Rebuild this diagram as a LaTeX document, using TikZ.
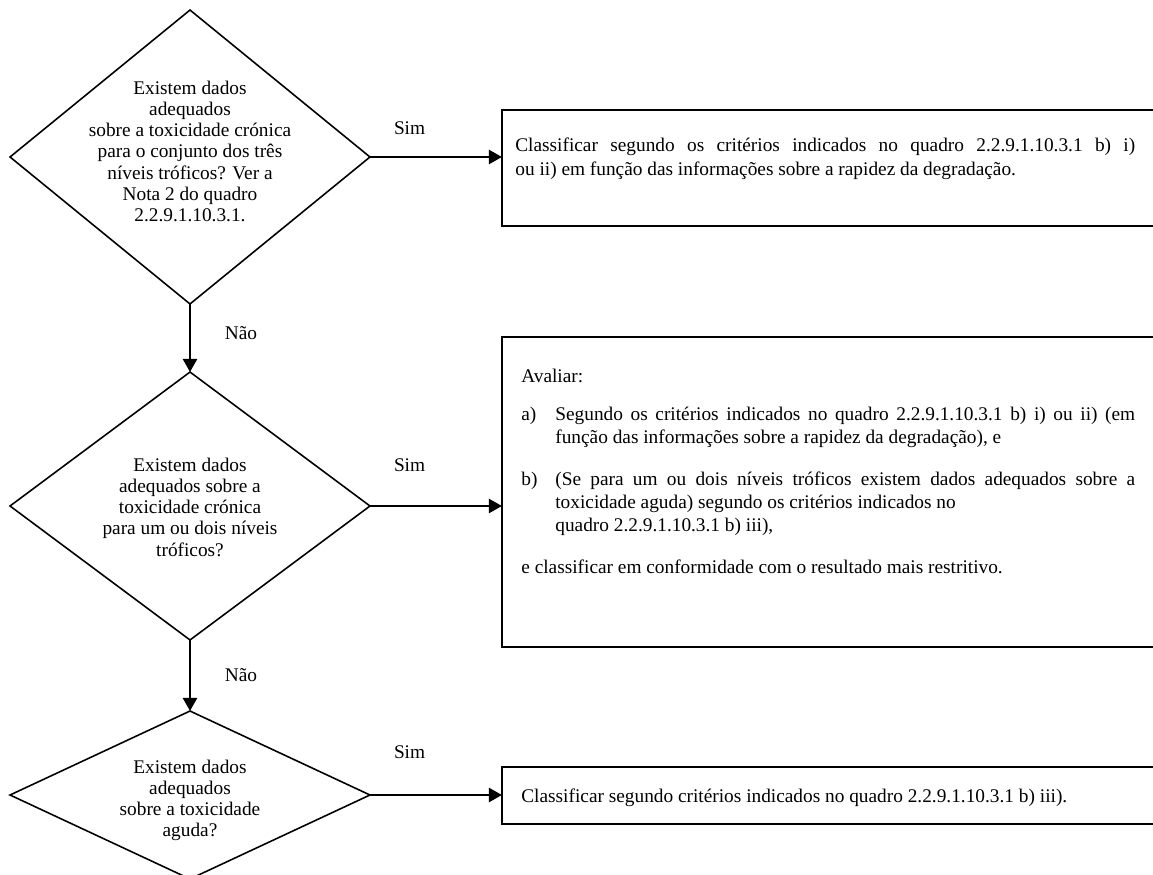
\documentclass[tikz,border=0pt]{standalone}
\usepackage{fontspec}
\setmainfont{Liberation Serif}
\usetikzlibrary{shapes.geometric,arrows.meta}
\newcommand\qfont{\fontsize{11}{12.1}\selectfont}
\newcommand\bfont{\fontsize{11}{13.1}\selectfont}
\begin{document}
\begin{tikzpicture}[x=0.02cm,y=-0.02cm,
  decision/.style={diamond, draw, line width=0.9pt, inner sep=0pt, outer sep=0pt, minimum width=7.2cm},
  resultbox/.style={rectangle, draw, line width=1.1pt, inner sep=0pt, outer sep=0pt, minimum width=14cm, anchor=north west},
  flow/.style={line width=1.5pt, -{Triangle[length=7.5pt,width=8pt]}},
  lbl/.style={font=\bfont, inner sep=0pt},
  qtext/.style={inner sep=0pt, anchor=base},
  btext/.style={inner sep=0pt, anchor=base west},
]
\useasboundingbox (0,0) rectangle (1153,875);
\clip (0,0) rectangle (1153,875);

% decisions
\node[decision, minimum height=5.88cm] (d1) at (190,157) {};
\node[decision, minimum height=5.36cm] (d2) at (190,506) {};
\node[decision, minimum height=3.36cm] (d3) at (190,795) {};

\node[qtext] (q1) at (190,94) {\parbox[t]{6cm}{\centering\qfont Existem dados\\adequados\\sobre a toxicidade crónica\\para o conjunto dos três\\níveis tróficos? Ver a\\Nota 2 do quadro\\2.2.9.1.10.3.1.}};
\node[qtext] (q2) at (190,471) {\parbox[t]{6cm}{\centering\qfont Existem dados\\adequados sobre a\\toxicidade crónica\\para um ou dois níveis\\tróficos?}};
\node[qtext] (q3) at (190,773) {\parbox[t]{6cm}{\centering\qfont Existem dados\\adequados\\sobre a toxicidade\\aguda?}};

% results
\node[resultbox, minimum height=2.32cm] (b1) at (502,110) {};
\node[resultbox, minimum height=6.2cm] (b2) at (502,337) {};
\node[resultbox, minimum height=1.14cm] (b3) at (502,767) {};

\node[btext] (t1) at (515,152) {\parbox[t]{12.4cm}{\bfont\makebox[\linewidth][s]{Classificar segundo os critérios indicados no quadro 2.2.9.1.10.3.1 b) i)}\\ou ii) em função das informações sobre a rapidez da degradação.}};

\node[btext] (t2a) at (521,382) {\bfont Avaliar:};
\node[btext] (t2b) at (521,420) {\bfont a)};
\node[btext] (t2c) at (555,420) {\parbox[t]{11.6cm}{\bfont\makebox[\linewidth][s]{Segundo os critérios indicados no quadro 2.2.9.1.10.3.1 b) i) ou ii) (em}\\função das informações sobre a rapidez da degradação), e}};
\node[btext] (t2d) at (521,485) {\bfont b)};
\node[btext] (t2e) at (555,485) {\parbox[t]{11.6cm}{\bfont\makebox[\linewidth][s]{(Se para um ou dois níveis tróficos existem dados adequados sobre a}\\toxicidade aguda) segundo os critérios indicados no\\quadro 2.2.9.1.10.3.1 b) iii),}};
\node[btext] (t2f) at (521,573) {\bfont e classificar em conformidade com o resultado mais restritivo.};

\node[btext] (t3) at (521,802) {\bfont Classificar segundo critérios indicados no quadro 2.2.9.1.10.3.1 b) iii).};

% connectors
\draw[flow] (d1.east) -- node[lbl, pos=0.3, yshift=0.58cm] (s1) {Sim} (d1.east -| b1.west);
\draw[flow] (d2.east) -- node[lbl, pos=0.3, yshift=0.82cm] (s2) {Sim} (d2.east -| b2.west);
\draw[flow] (d3.east) -- node[lbl, pos=0.3, yshift=0.86cm] (s3) {Sim} (d3.east -| b3.west);
\draw[flow] (d1.south) -- node[lbl, pos=0.43, xshift=1.02cm] (n1) {Não} (d2.north);
\draw[flow] (d2.south) -- node[lbl, pos=0.49, xshift=1.02cm] (n2) {Não} (d3.north);
\end{tikzpicture}
\end{document}
